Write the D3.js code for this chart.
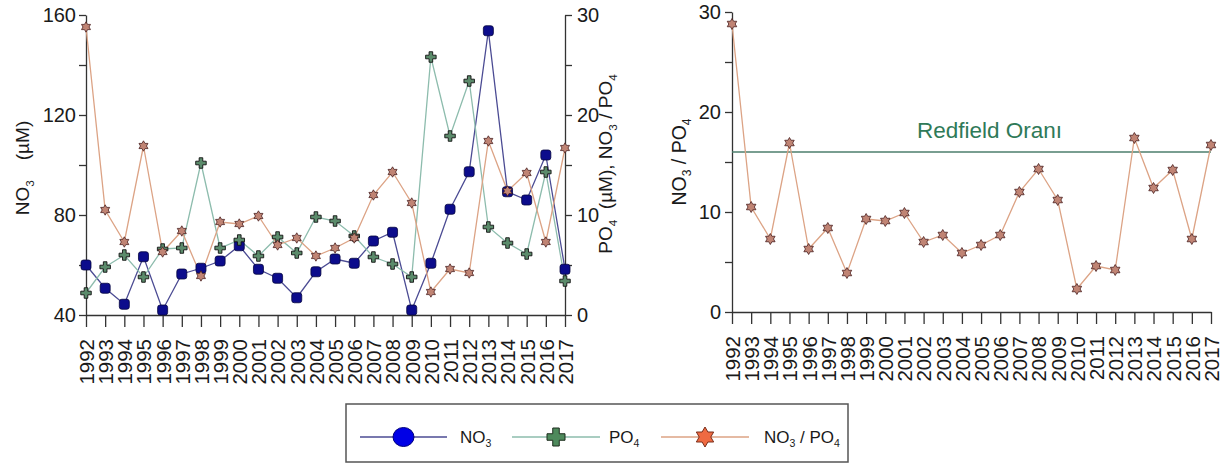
<!DOCTYPE html>
<html><head><meta charset="utf-8">
<script src="https://cdn.jsdelivr.net/npm/d3@7"></script>
<style>
body{margin:0;background:#fff;}
svg text{font-family:Arial,"Liberation Sans",sans-serif;fill:#1a1a1a;}
</style></head>
<body><svg id="c" width="1224" height="463"></svg>
<script>
const years = [1992,1993,1994,1995,1996,1997,1998,1999,2000,2001,2002,2003,2004,2005,2006,2007,2008,2009,2010,2011,2012,2013,2014,2015,2016,2017];
const no3 = [60,50.7,44.3,63.3,42,56.4,58.7,61.6,67.7,58.3,54.7,46.9,57.3,62.4,60.7,69.6,73.1,42,60.7,82.3,97.3,153.7,89.3,86,104,58.3];
const po4 = [2.2,4.8,6.0,3.8,6.6,6.7,15.2,6.7,7.5,5.9,7.8,6.2,9.8,9.4,7.9,5.8,5.1,3.8,25.8,17.9,23.4,8.8,7.2,6.1,14.3,3.4];
const ratio = [28.8,10.5,7.3,16.9,6.3,8.4,3.9,9.3,9.1,9.9,7.0,7.7,5.9,6.7,7.7,12.0,14.3,11.2,2.3,4.6,4.2,17.4,12.4,14.2,7.3,16.7];
const redfield = 16;
const leftTicks = [40,60,80,100,120,140,160];
const leftLabels = [40,80,120,160];
const rightTicks = [0,5,10,15,20,25,30];
const rightLabels = [0,10,20,30];

const svg = d3.select("#c");
const C = {no3Line:"#4b4b93", no3Fill:"#0c0c8c", no3Stroke:"#05053f",
  po4Line:"#8dbcad", po4Fill:"#5b8b6b", po4Stroke:"#111",
  rLine:"#dca385", rFill:"#c08474", rStroke:"#4a2020", axis:"#333"};

function starPath(R){
  const r = R/Math.sqrt(3); let p=[];
  for(let k=0;k<12;k++){const a=(-90+k*30)*Math.PI/180; const rr=k%2?r:R; p.push([rr*Math.cos(a), rr*Math.sin(a)]);}
  return "M"+p.map(d=>d.join(",")).join("L")+"Z";
}
function plusPath(L,W){
  const a=L/2,b=W/2;
  return `M${-b},${-a}H${b}V${-b}H${a}V${b}H${b}V${a}H${-b}V${b}H${-a}V${-b}H${-b}Z`;
}
function subLabel(sel, parts, fs){
  parts.forEach(p=>{
    const t = sel.append("tspan").text(p[0]);
    if(p[1]==="sub"){ t.attr("font-size",fs*0.62).attr("dy",fs*0.25); }
    else if(p[1]==="up"){ t.attr("dy",-fs*0.25); }
    if(p[2]) t.attr("dx",p[2]);
  });
}
function yearAxis(g, x){
  const ax = d3.axisBottom(x).tickValues(years).tickFormat(d3.format("d")).tickSize(12).tickSizeOuter(0);
  g.call(ax);
  g.select(".domain").attr("stroke",C.axis).attr("stroke-width",1.3);
  g.selectAll(".tick line").attr("stroke",C.axis).attr("stroke-width",1.3);
  g.selectAll(".tick text").attr("transform","rotate(-90)").attr("x",-24).attr("y",0)
    .attr("dy","0.36em").attr("text-anchor","end").attr("font-size",20.5).attr("fill","#1a1a1a");
}
function styleY(g, labels){
  g.select(".domain").attr("stroke",C.axis).attr("stroke-width",1.3);
  g.selectAll(".tick line").attr("stroke",C.axis).attr("stroke-width",1.3);
  g.selectAll(".tick text").attr("font-size",20).attr("fill","#1a1a1a")
    .text(d=>labels.includes(d)?d:"");
}

// ---------- Left chart ----------
const xL = d3.scaleLinear().domain([1992,2017]).range([86,565]);
const yL = d3.scaleLinear().domain([40,160]).range([315,15]);
const yR = d3.scaleLinear().domain([0,30]).range([315,15]);

const gxL = svg.append("g").attr("transform","translate(0,315)");
yearAxis(gxL, xL);
const gyL = svg.append("g").attr("transform","translate(86,0)")
  .call(d3.axisLeft(yL).tickValues(leftTicks).tickSize(7).tickPadding(3).tickSizeOuter(0));
styleY(gyL, leftLabels);
const gyR = svg.append("g").attr("transform","translate(565,0)")
  .call(d3.axisRight(yR).tickValues(rightTicks).tickSize(7).tickPadding(5).tickSizeOuter(0));
styleY(gyR, rightLabels);

const no3D = years.map((y,i)=>({x:y,v:no3[i]}));
const po4D = years.map((y,i)=>({x:y,v:po4[i]}));
const rD = years.map((y,i)=>({x:y,v:ratio[i]}));

const lineNo3 = d3.line().x(d=>xL(d.x)).y(d=>yL(d.v));
const lineR = d3.line().x(d=>xL(d.x)).y(d=>yR(d.v));

svg.append("path").datum(no3D).attr("d",lineNo3).attr("fill","none").attr("stroke",C.no3Line).attr("stroke-width",1.3);
svg.append("path").datum(po4D).attr("d",lineR).attr("fill","none").attr("stroke",C.po4Line).attr("stroke-width",1.3);
svg.append("path").datum(rD).attr("d",lineR).attr("fill","none").attr("stroke",C.rLine).attr("stroke-width",1.3);

svg.append("g").selectAll("rect").data(no3D).join("rect")
  .attr("x",d=>xL(d.x)-5).attr("y",d=>yL(d.v)-5).attr("width",10).attr("height",10).attr("rx",2.5)
  .attr("fill",C.no3Fill).attr("stroke",C.no3Stroke).attr("stroke-width",0.8);
svg.append("g").selectAll("path").data(po4D).join("path")
  .attr("transform",d=>`translate(${xL(d.x)},${yR(d.v)})`).attr("d",plusPath(10.5,3.6))
  .attr("fill",C.po4Fill).attr("stroke",C.po4Stroke).attr("stroke-width",0.9);
svg.append("g").selectAll("path").data(rD).join("path")
  .attr("transform",d=>`translate(${xL(d.x)},${yR(d.v)})`).attr("d",starPath(5.2))
  .attr("fill",C.rFill).attr("stroke",C.rStroke).attr("stroke-width",0.8);

// y labels
const t1 = svg.append("text").attr("transform","translate(29,168) rotate(-90)").attr("text-anchor","middle").attr("font-size",19);
subLabel(t1, [["NO"],["3","sub"],["(\u00b5M)","up",20]], 19);
const t2 = svg.append("text").attr("transform","translate(612,164) rotate(-90)").attr("text-anchor","middle").attr("font-size",19);
subLabel(t2, [["PO"],["4","sub"],["\u00a0 (\u00b5M), NO","up"],["3","sub"],[" / PO","up"],["4","sub"]], 19);

// ---------- Right chart ----------
const x2 = d3.scaleLinear().domain([1992,2017]).range([732,1211]);
const y2 = d3.scaleLinear().domain([0,30]).range([312,12]);
const gx2 = svg.append("g").attr("transform","translate(0,312)");
yearAxis(gx2, x2);
const gy2 = svg.append("g").attr("transform","translate(732,0)")
  .call(d3.axisLeft(y2).tickValues(rightTicks).tickSize(7).tickPadding(4).tickSizeOuter(0));
styleY(gy2, rightLabels);

svg.append("line").attr("x1",x2(1992)).attr("x2",x2(2017)).attr("y1",y2(redfield)).attr("y2",y2(redfield))
  .attr("stroke","#4d7e6c").attr("stroke-width",1.6);
svg.append("text").attr("x",917).attr("y",y2(redfield)-14).attr("font-size",22.5)
  .style("fill","#2f7a58").text("Redfield Oran\u0131");

const line2 = d3.line().x(d=>x2(d.x)).y(d=>y2(d.v));
svg.append("path").datum(rD).attr("d",line2).attr("fill","none").attr("stroke",C.rLine).attr("stroke-width",1.3);
svg.append("g").selectAll("path").data(rD).join("path")
  .attr("transform",d=>`translate(${x2(d.x)},${y2(d.v)})`).attr("d",starPath(5.5))
  .attr("fill",C.rFill).attr("stroke",C.rStroke).attr("stroke-width",0.8);

const t3 = svg.append("text").attr("transform","translate(686,162) rotate(-90)").attr("text-anchor","middle").attr("font-size",19.5);
subLabel(t3, [["NO"],["3","sub"],[" / PO","up"],["4","sub"]], 19.5);

// ---------- Legend ----------
const lg = svg.append("g");
lg.append("rect").attr("x",346).attr("y",404).attr("width",502).attr("height",58)
  .attr("fill","#fff").attr("stroke","#555").attr("stroke-width",1.5);
const ly = 437;
const items = [
  {x1:360,x2:447,c:C.no3Line,label:[["NO"],["3","sub"]],tx:460,type:"circle"},
  {x1:512,x2:600,c:C.po4Line,label:[["PO"],["4","sub"]],tx:609,type:"plus"},
  {x1:661,x2:749,c:C.rLine,label:[["NO"],["3","sub"],[" / PO","up"],["4","sub"]],tx:764,type:"star"}
];
items.forEach(it=>{
  lg.append("line").attr("x1",it.x1).attr("x2",it.x2).attr("y1",ly).attr("y2",ly).attr("stroke",it.c).attr("stroke-width",1.6);
  const cx=(it.x1+it.x2)/2;
  if(it.type==="circle") lg.append("ellipse").attr("cx",cx).attr("cy",ly).attr("rx",10.5).attr("ry",9.5).attr("fill","#0000e6").attr("stroke","#00007a").attr("stroke-width",1);
  if(it.type==="plus") lg.append("path").attr("transform",`translate(${cx},${ly})`).attr("d",plusPath(18,6.5)).attr("fill","#4e8a5c").attr("stroke","#1c2c1c").attr("stroke-width",1);
  if(it.type==="star") lg.append("path").attr("transform",`translate(${cx},${ly})`).attr("d",starPath(10)).attr("fill","#ef6a42").attr("stroke","#7a2e1a").attr("stroke-width",1);
  const t = lg.append("text").attr("x",it.tx).attr("y",ly+6).attr("font-size",17);
  subLabel(t, it.label, 17);
});
</script></body></html>
